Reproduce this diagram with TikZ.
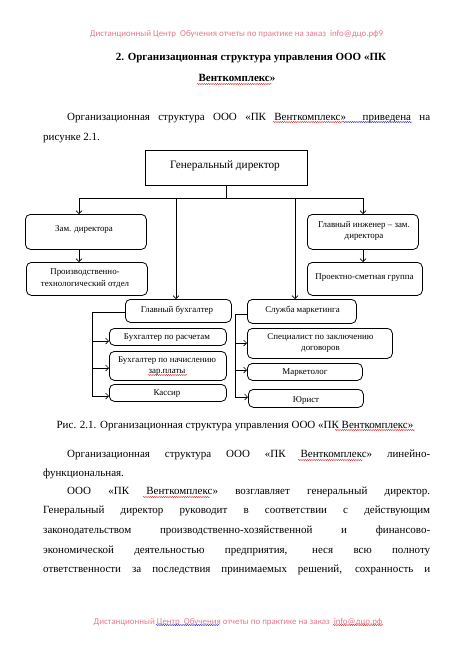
\documentclass[tikz,border=0pt]{standalone}
\usepackage{fontspec}
\setmainfont{Liberation Serif}
\newfontfamily\wmfont{Carlito}
\usetikzlibrary{arrows.meta,decorations.pathmorphing}
\definecolor{wmpink}{RGB}{232,120,140}
\definecolor{sqred}{RGB}{220,40,40}
\definecolor{sqblue}{RGB}{40,40,200}
\begin{document}
\begin{tikzpicture}[x=1pt,y=-1pt,
  box/.style={draw, line width=0.8pt, rounded corners=5pt, inner sep=0, anchor=north west},
  sqbox/.style={draw, line width=0.8pt, inner sep=0, anchor=north west},
  btxt/.style={font=\fontsize{8.9}{11}\selectfont, align=center, inner sep=0},
  body/.style={font=\fontsize{11}{13}\selectfont, anchor=base west, inner sep=0},
  ttl/.style={font=\fontsize{11}{13}\selectfont\bfseries, anchor=base, inner sep=0},
  wm/.style={font=\wmfont\fontsize{8.9}{10}\selectfont, text=wmpink, inner sep=0},
  conn/.style={line width=0.7pt},
  arr/.style={conn, -{Straight Barb[length=3pt,width=6pt]}},
  squig/.style={line width=0.4pt, decorate, decoration={snake, segment length=2.2pt, amplitude=0.6pt}}
]
\useasboundingbox (0,0) rectangle (455,651);
\fill[white] (0,0) rectangle (455,651);

% header / footer watermark
\node[wm] (wmtop) at (236.5,34) {Дистанционный Центр\ \ Обучения отчеты по практике на заказ\ \ info@дцо.рф9};
\node[wm] (wmbot) at (238,622) {Дистанционный Центр\ \ Обучения отчеты по практике на заказ\ \ info@дцо.рф};

% title
\node[ttl] (t1) at (251,60) {2. Организационная структура управления ООО «ПК};
\node[ttl] (t2) at (237,81) {Венткомплекс»};

% paragraph 1
\node[body] (p1a) at (67,120) {\makebox[363pt][s]{Организационная структура ООО «ПК Венткомплекс»\ \ приведена на}};
\node[body] (p1b) at (43,140) {рисунке 2.1.};

% diagram boxes
\node[sqbox, minimum width=162pt, minimum height=35pt] (gd) at (145,150) {};
\node[box, minimum width=121pt, minimum height=35pt] (zam) at (25,214) {};
\node[box, minimum width=121pt, minimum height=33pt] (pto) at (26,262) {};
\node[box, minimum width=111pt, minimum height=35pt] (gi) at (307,214) {};
\node[box, minimum width=115pt, minimum height=33pt] (psg) at (307,262) {};
\node[box, minimum width=106pt, minimum height=23pt] (gb) at (125,299) {};
\node[box, minimum width=109pt, minimum height=24pt] (sm) at (247,299) {};
\node[box, minimum width=117pt, minimum height=17pt] (br) at (109,328) {};
\node[box, minimum width=117pt, minimum height=29pt] (bn) at (109,351) {};
\node[box, minimum width=117pt, minimum height=17pt] (ka) at (109,384) {};
\node[box, minimum width=145pt, minimum height=30pt] (sz) at (247,328) {};
\node[box, minimum width=115pt, minimum height=17pt] (mk) at (247,363) {};
\node[box, minimum width=115pt, minimum height=18pt] (yu) at (248,389) {};

% box texts
\node[btxt, font=\fontsize{11.3}{13}\selectfont] (gdT) at (225,166) {Генеральный директор};
\node[btxt] (zamT) at (84,229) {Зам. директора};
\node[btxt, font=\fontsize{8.9}{12}\selectfont] (ptoT) at (85,278) {Производственно-\\технологический отдел};
\node[btxt] (giT) at (364,230.5) {Главный инженер – зам.\\директора};
\node[btxt] (psgT) at (364.5,278) {Проектно-сметная группа};
\node[btxt] (gbT) at (177,310) {Главный бухгалтер};
\node[btxt] (smT) at (302.5,310) {Служба маркетинга};
\node[btxt] (brT) at (167,338) {Бухгалтер по расчетам};
\node[btxt] (bnT) at (167,366.5) {Бухгалтер по начислению\\зар.платы};
\node[btxt] (kaT) at (167,394) {Кассир};
\node[btxt, font=\fontsize{8.9}{10.5}\selectfont] (szT) at (320.5,343) {Специалист по заключению\\договоров};
\node[btxt] (mkT) at (305,373) {Маркетолог};
\node[btxt] (yuT) at (306,400) {Юрист};

% connectors
\coordinate (hl) at (79,198);
\coordinate (hr) at (363,198);
\coordinate (v1) at (176,198);
\coordinate (v2) at (295,198);
\draw[conn] (gd.south) -- (gd.south |- hl);
\draw[conn] (hl) -- (hr);
\draw[arr] (hl) -- (hl |- zam.north);
\draw[arr] (hr) -- (hr |- gi.north);
\draw[arr] (zam.south -| hl) -- (pto.north -| hl);
\draw[arr] (gi.south -| hr) -- (psg.north -| hr);
\draw[arr] (v1) -- (v1 |- gb.north);
\draw[arr] (v2) -- (v2 |- sm.north);

\coordinate (lb) at (92,312);
\coordinate (la1) at (92,341);
\coordinate (la2) at (92,368);
\coordinate (la3) at (92,396);
\draw[conn] (gb.west |- lb) -- (lb) -- (la3);
\draw[arr] (la1) -- (la1 -| br.west);
\draw[arr] (la2) -- (la2 -| bn.west);
\draw[arr] (la3) -- (la3 -| ka.west);

\coordinate (rb) at (235,314);
\coordinate (ra1) at (235,343);
\coordinate (ra2) at (235,370);
\coordinate (ra3) at (235,397);
\draw[conn] (sm.west |- rb) -- (rb) -- (ra3);
\draw[arr] (ra1) -- (ra1 -| sz.west);
\draw[arr] (ra2) -- (ra2 -| mk.west);
\draw[arr] (ra3) -- (ra3 -| yu.west);

% caption
\node[body, anchor=base] (cap) at (235,428) {Рис. 2.1. Организационная структура управления ООО «ПК Венткомплекс»};

% paragraph 2
\node[body] (q1) at (67,457.5) {\makebox[363pt][s]{Организационная структура ООО «ПК Венткомплекс» линейно-}};
\node[body] (q2) at (43,476) {функциональная.};
\node[body] (q3) at (67,494.5) {\makebox[363pt][s]{ООО «ПК Венткомплекс» возглавляет генеральный директор.}};
\node[body] (q4) at (43,513.5) {\makebox[387pt][s]{Генеральный директор руководит в соответствии с действующим}};
\node[body] (q5) at (43,533.5) {\makebox[387pt][s]{законодательством производственно-хозяйственной и финансово-}};
\node[body] (q6) at (43,553) {\makebox[387pt][s]{экономической деятельностью предприятия, неся всю полноту}};
\node[body] (q7) at (43,572.5) {\makebox[387pt][s]{ответственности за последствия принимаемых решений, сохранность и}};

% spell-check squiggles
\draw[squig, sqred] (197,84) -- (272,84);
\draw[squig, sqred] (273,122) -- (343,122);
\draw[squig, sqblue] (343,122) -- (412,122);
\draw[squig, sqred] (335,430) -- (415,430);
\draw[squig, sqred] (298,460) -- (363,460);
\draw[squig, sqred] (143,497) -- (210,497);
\draw[squig, sqred] (148,375) -- (187,375);
\draw[squig, sqblue] (156,625) -- (220,625);
\draw[squig, sqred] (333,625) -- (383,625);
\end{tikzpicture}
\end{document}
